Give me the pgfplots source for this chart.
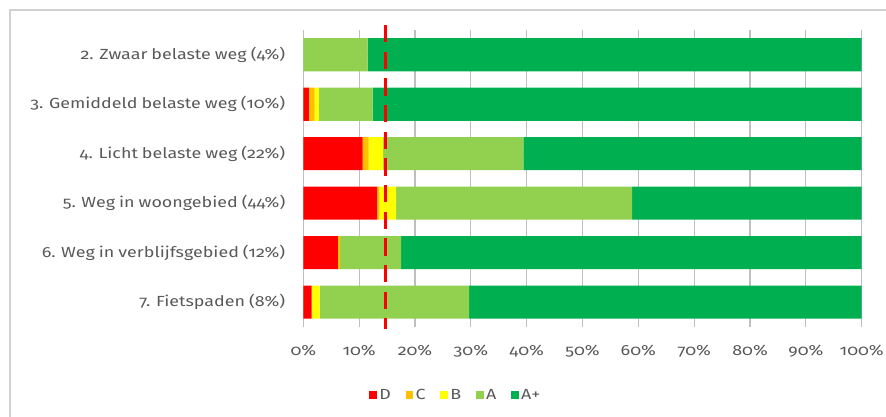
\documentclass[border=0pt]{standalone}
\usepackage{fontspec}
\setmainfont[Numbers=OldStyle, FakeStretch=1.22, WordSpace=0.85]{Fira Sans}
\usepackage{pgfplots}
\pgfplotsset{compat=1.18}

\definecolor{cD}{HTML}{FF0000}
\definecolor{cC}{HTML}{FFC000}
\definecolor{cB}{HTML}{FFFF00}
\definecolor{cA}{HTML}{92D050}
\definecolor{cAp}{HTML}{00B050}
\definecolor{txt}{HTML}{595959}
\definecolor{grid}{HTML}{D0D0D0}

\begin{document}
\begin{tikzpicture}
% page = 886 x 417 px, 1px = 0.75pt
\path[use as bounding box] (0,0) rectangle (664.5pt,312.75pt);
\draw[grid, line width=0.8pt] (7.5pt,-5pt) rectangle (675pt,305.25pt);
\begin{axis}[
    at={(227.5pt,67.5pt)}, anchor=south west,
    scale only axis,
    width=418.8pt, height=222.75pt,
    xbar stacked,
    bar width=24.75pt,
    xmin=0, xmax=100,
    ymin=0.5, ymax=6.5,
    y dir=reverse,
    xtick={0,10,...,100},
    xticklabels={0\%,10\%,20\%,30\%,40\%,50\%,60\%,70\%,80\%,90\%,100\%},
    ytick={1,2,3,4,5,6},
    yticklabels={2. Zwaar belaste weg (4\%),3. Gemiddeld belaste weg (10\%),4. Licht belaste weg (22\%),5. Weg in woongebied (44\%),6. Weg in verblijfsgebied (12\%),7. Fietspaden (8\%)},
    xmajorgrids=true,
    grid style={grid, line width=0.9pt},
    axis line style={draw=none},
    major tick length=0pt,
    tick label style={font=\fontsize{11}{14}\selectfont, text=txt},
    xticklabel style={yshift=-10pt},
    yticklabel style={xshift=-10pt},
    legend style={at={(0.2735,-0.229)}, anchor=center, draw=none, fill=none,
        font=\fontsize{11}{14}\selectfont, text=txt,
        legend columns=-1,
        /tikz/every even column/.append style={column sep=9pt}},
    legend image code/.code={\fill[#1] (0pt,-2.8pt) rectangle (5.6pt,2.8pt);},
    clip=false,
]
\addplot[fill=cD, draw=none] coordinates {(0,1) (1.0,2) (10.6,3) (13.2,4) (6.2,5) (1.5,6)};
\addplot[fill=cC, draw=none] coordinates {(0,1) (1.0,2) (1.1,3) (0.4,4) (0.4,5) (0,6)};
\addplot[fill=cB, draw=none] coordinates {(0,1) (0.8,2) (2.6,3) (3.0,4) (0,5) (1.4,6)};
\addplot[fill=cA, draw=none] coordinates {(11.5,1) (9.6,2) (25.1,3) (42.3,4) (10.9,5) (26.8,6)};
\addplot[fill=cAp, draw=none] coordinates {(88.5,1) (87.6,2) (60.6,3) (41.1,4) (82.5,5) (70.3,6)};
\legend{D,C,B,A,A+}
\end{axis}
\begin{axis}[
    at={(227.5pt,67.5pt)}, anchor=south west,
    scale only axis,
    width=418.8pt, height=222.75pt,
    xmin=0, xmax=100, ymin=0.5, ymax=6.5,
    y dir=reverse,
    axis lines=none, clip=false,
]
\addplot[cD, line width=2.6pt, dash pattern=on 13pt off 7pt] coordinates {(14.7,0.4) (14.7,6.55)};
\end{axis}
\end{tikzpicture}
\end{document}
